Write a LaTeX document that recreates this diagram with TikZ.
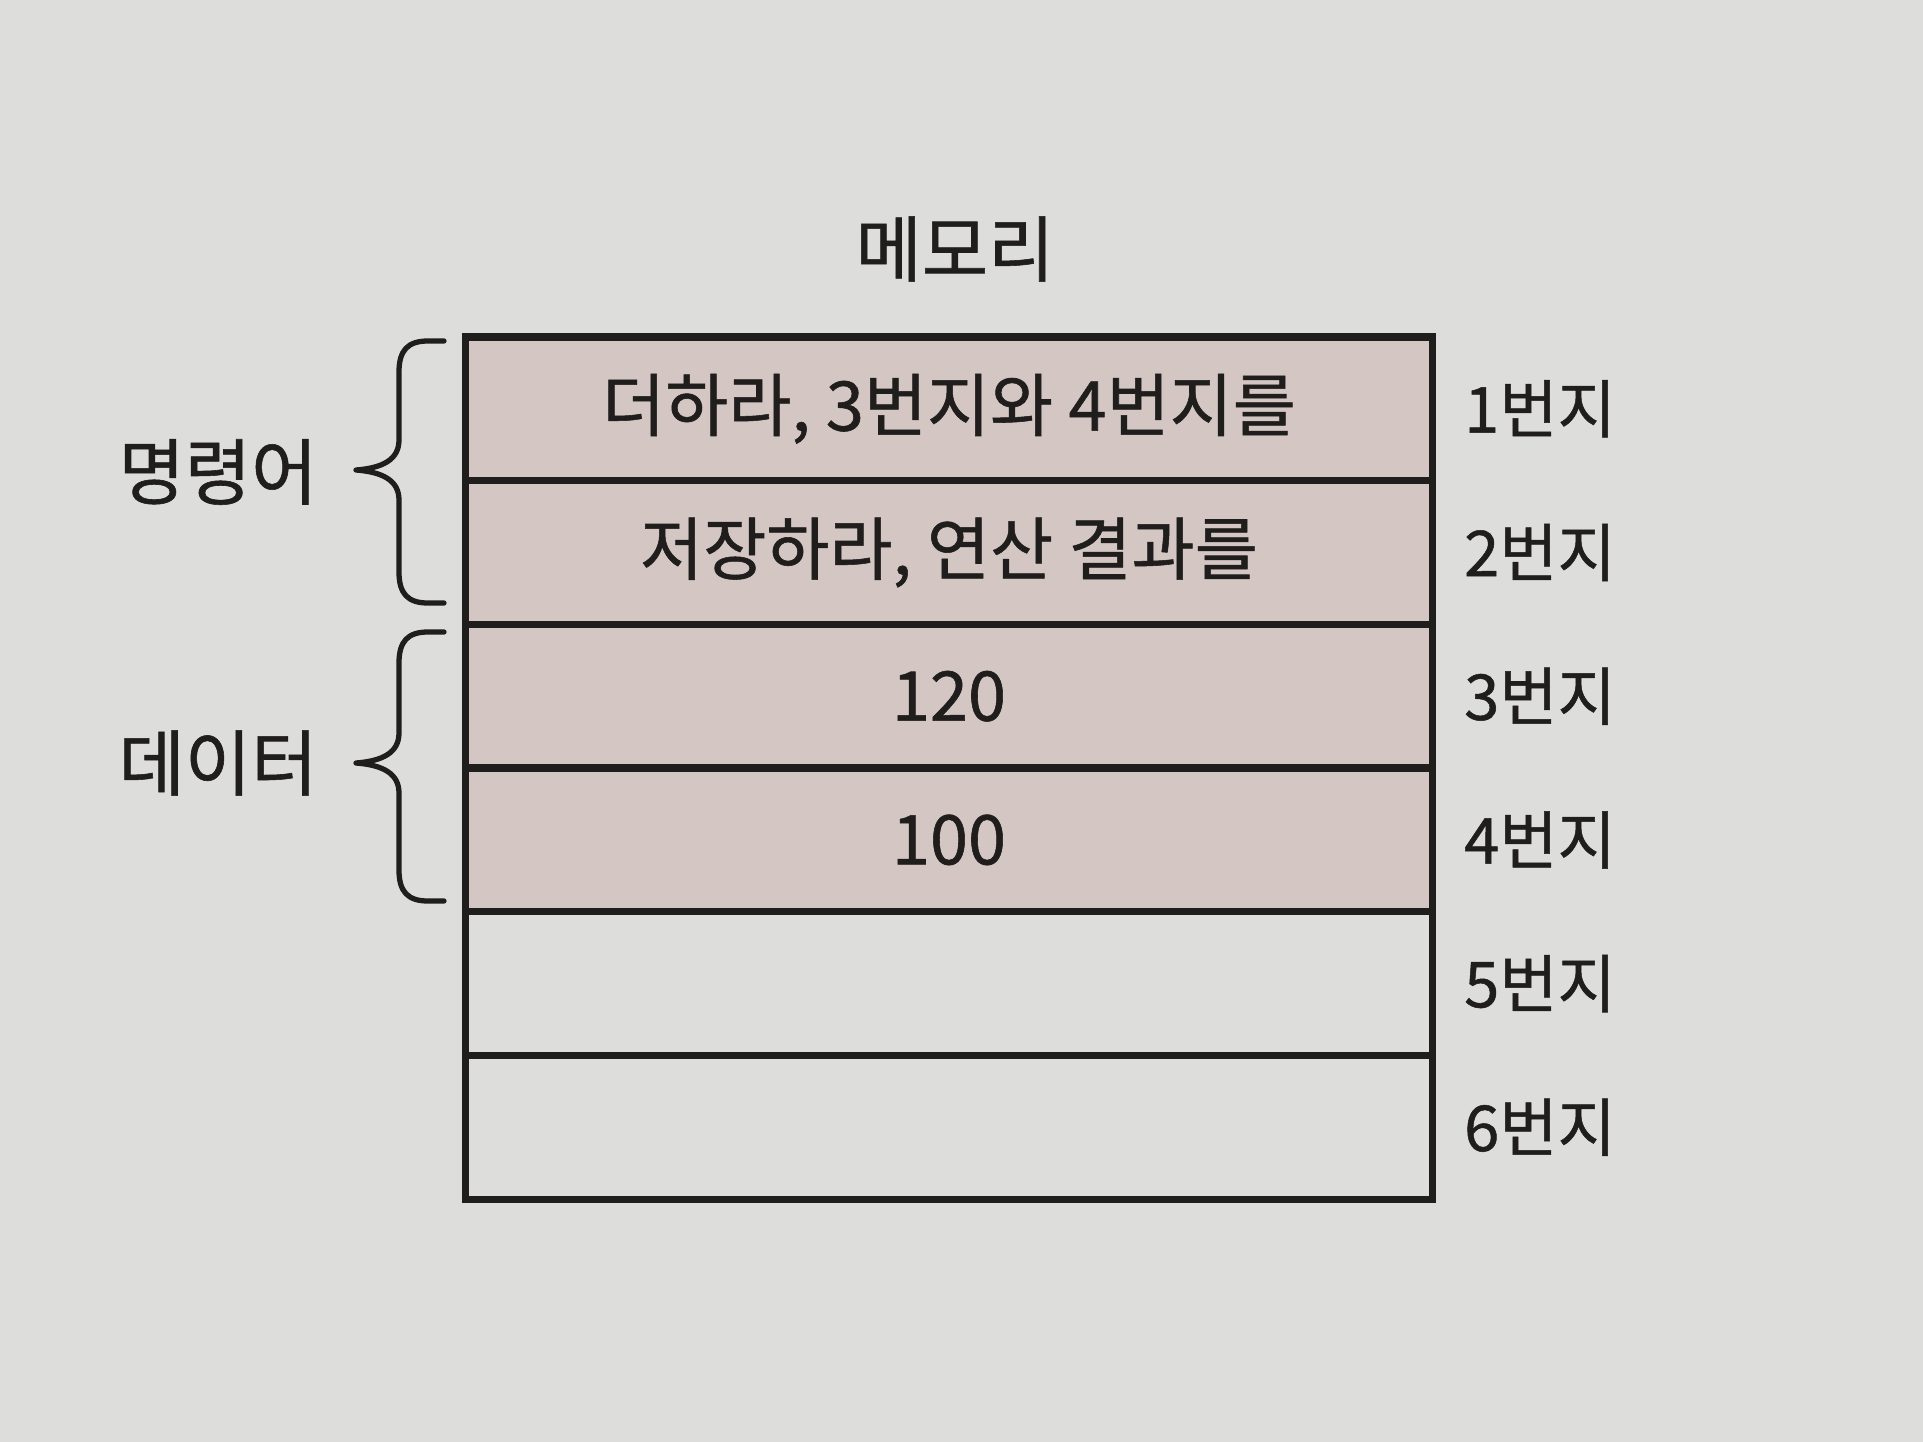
\documentclass[tikz,border=0pt]{standalone}
\usepackage{fontspec}
\setmainfont{Noto Sans CJK KR}[FakeBold=0.8]
\usepackage{xcolor}
\usepackage{tikz}
\definecolor{paper}{RGB}{221,222,219}
\definecolor{cellpink}{RGB}{211,198,195}
\definecolor{ink}{RGB}{32,29,29}
\tikzset{ mem_cell/.style = {rectangle, draw=ink, line width=2.1pt, minimum width=9.67cm, minimum height=1.437cm, inner sep=0pt, align=center, font=\fontsize{19.5pt}{21pt}\selectfont, text=ink} }
\tikzset{ mem_text/.style = {font=\fontsize{20.5pt}{22pt}\selectfont, text=ink, inner sep=0pt} }
\tikzset{ addr_text/.style = {font=\fontsize{18pt}{20pt}\selectfont, text=ink, inner sep=0pt} }
\tikzset{ curly/.style = {draw=ink, line width=1.5pt, line cap=round, line join=round} }

\begin{document}
\begin{tikzpicture}[x=0.01cm, y=-0.01cm]
            \fill[paper] (0,0) rectangle (1923,1442);
            \node[mem_text] (title) at (955,249) {메모리};
            \node[mem_cell, fill=cellpink] (m1) at (949,408.8) {더하라, 3번지와 4번지를};
            \node[mem_cell, fill=cellpink] (m2) at (949,552.5) {저장하라, 연산 결과를};
            \node[mem_cell, fill=cellpink] (m3) at (949,696.2) {120};
            \node[mem_cell, fill=cellpink] (m4) at (949,839.9) {100};
            \node[mem_cell] (m5) at (949,983.6) {};
            \node[mem_cell] (m6) at (949,1127.3) {};
            \node[addr_text] (a1) at (1540,408.8) {1번지};
            \node[addr_text] (a2) at (1540,552.5) {2번지};
            \node[addr_text] (a3) at (1540,696.2) {3번지};
            \node[addr_text] (a4) at (1540,839.9) {4번지};
            \node[addr_text] (a5) at (1540,983.6) {5번지};
            \node[addr_text] (a6) at (1540,1127.3) {6번지};
            \node[mem_text] (cmd) at (218,472) {명령어};
            \node[mem_text] (dat) at (218,763) {데이터};
            % braces
            \draw[curly] (444,341) -- (428,341) .. controls (408,341) and (399,350) .. (399,372) -- (399,440)
                .. controls (399,460) and (382,468) .. (356,470) .. controls (382,472) and (399,480) .. (399,500)
                -- (399,572) .. controls (399,594) and (408,603) .. (428,603) -- (444,603);
            \draw[curly] (444,632) -- (428,632) .. controls (408,632) and (399,641) .. (399,663) -- (399,733)
                .. controls (399,753) and (382,761) .. (356,763) .. controls (382,765) and (399,773) .. (399,793)
                -- (399,870) .. controls (399,892) and (408,901) .. (428,901) -- (444,901);
        \end{tikzpicture}
\end{document}
